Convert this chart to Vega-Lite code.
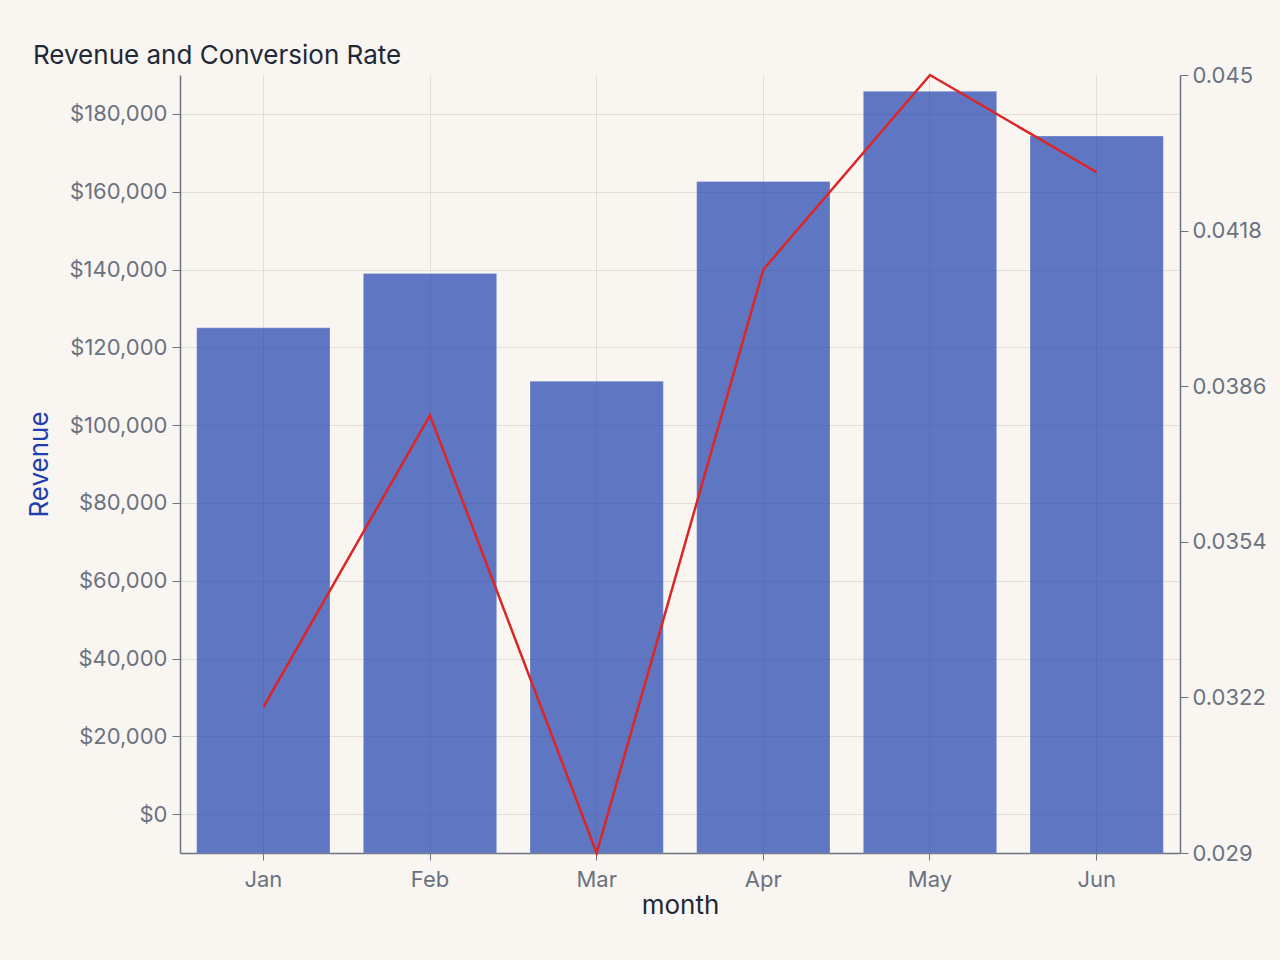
{
  "$schema": "https://vega.github.io/schema/vega-lite/v6.json",
  "autosize": "none",
  "width": 1000,
  "height": 778,
  "padding": {"left": 180, "top": 75, "right": 100, "bottom": 107},
  "background": "#f9f6f2",
  "title": {"text": "Revenue and Conversion Rate", "anchor": "start", "frame": "group", "dx": -147, "offset": -5, "fontSize": 26, "fontWeight": "normal", "font": "Inter", "color": "#1f2937"},
  "config": {
    "font": "Inter",
    "view": {"stroke": null},
    "axis": {"labelFont": "Inter", "titleFont": "Inter", "labelColor": "#6b7280", "domainColor": "#6b7280", "tickColor": "#6b7280", "gridColor": "#e2ddd8", "labelFontSize": 22, "titleFontSize": 26, "titleFontWeight": "normal", "domainWidth": 1.5}
  },
  "data": {"values": [
    {"month": "Jan", "revenue": 125000, "conversion": 0.0320},
    {"month": "Feb", "revenue": 139000, "conversion": 0.0380},
    {"month": "Mar", "revenue": 111300, "conversion": 0.0290},
    {"month": "Apr", "revenue": 162600, "conversion": 0.0410},
    {"month": "May", "revenue": 185800, "conversion": 0.0450},
    {"month": "Jun", "revenue": 174300, "conversion": 0.0430}
  ]},
  "encoding": {
    "x": {"field": "month", "type": "nominal", "sort": null,
      "scale": {"paddingInner": 0.2, "paddingOuter": 0.1},
      "axis": {"labelAngle": 0, "title": "month", "titleColor": "#1f2937", "grid": true, "bandPosition": 0.5, "tickSize": 7, "labelPadding": 9, "titlePadding": 2}}
  },
  "layer": [
    {
      "mark": {"type": "bar", "color": "#1e40af", "opacity": 0.7, "stroke": "#ffffff", "strokeOpacity": 0.25, "strokeWidth": 1},
      "encoding": {
        "y": {"field": "revenue", "type": "quantitative",
          "scale": {"domain": [-10000, 190000], "nice": false, "zero": false},
          "axis": {"title": "Revenue", "titleColor": "#1e40af", "format": "$,.0f", "values": [0, 20000, 40000, 60000, 80000, 100000, 120000, 140000, 160000, 180000], "tickSize": 8, "labelPadding": 5, "titlePadding": 16, "grid": true}},
        "y2": {"datum": -10000}
      }
    },
    {
      "mark": {"type": "line", "color": "#dc2626", "strokeWidth": 2.5},
      "encoding": {
        "y": {"field": "conversion", "type": "quantitative",
          "scale": {"domain": [0.029, 0.045], "nice": false, "zero": false},
          "axis": {"orient": "right", "title": null, "grid": false, "values": [0.029, 0.0322, 0.0354, 0.0386, 0.0418, 0.045], "format": ".4~f", "tickSize": 8, "labelPadding": 4}}
      }
    }
  ],
  "resolve": {"scale": {"y": "independent"}}
}
